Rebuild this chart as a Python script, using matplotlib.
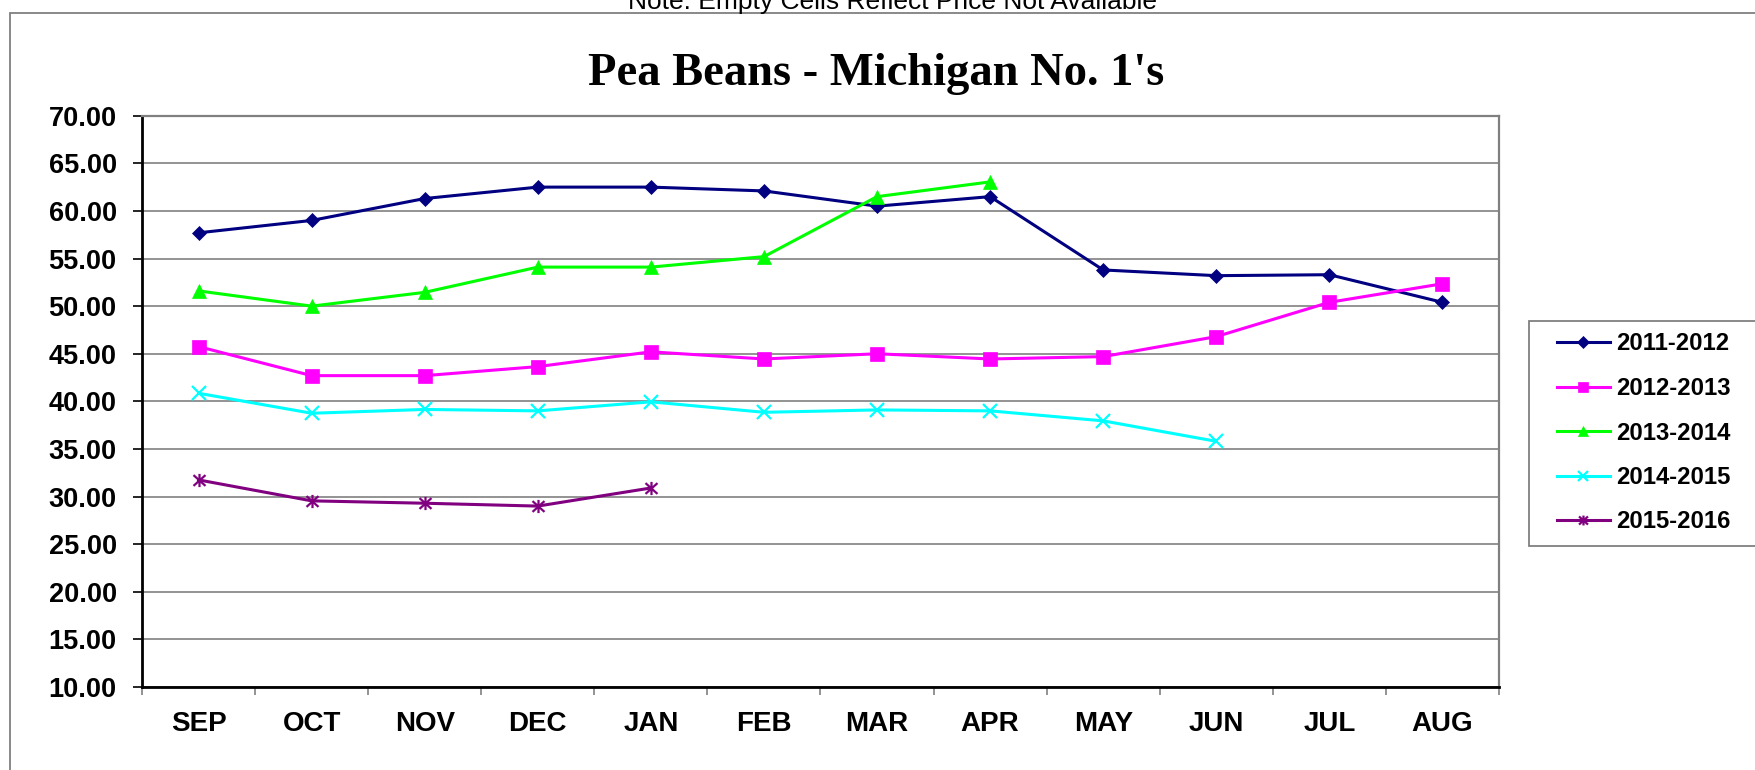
import numpy as np
import matplotlib
matplotlib.use("Agg")
import matplotlib.pyplot as plt
from matplotlib.path import Path
from matplotlib.patches import Rectangle
from matplotlib.ticker import FixedLocator, NullFormatter

months = ["SEP", "OCT", "NOV", "DEC", "JAN", "FEB", "MAR", "APR", "MAY", "JUN", "JUL", "AUG"]
nan = np.nan
s2011 = [57.7, 59.0, 61.3, 62.5, 62.5, 62.1, 60.5, 61.5, 53.8, 53.2, 53.3, 50.4]
s2012 = [45.75, 42.7, 42.7, 43.65, 45.2, 44.45, 45.0, 44.45, 44.7, 46.8, 50.4, 52.35]
s2013 = [51.6, 50.0, 51.45, 54.1, 54.1, 55.2, 61.5, 63.05, nan, nan, nan, nan]
s2014 = [40.85, 38.75, 39.15, 39.0, 39.95, 38.85, 39.1, 39.0, 37.95, 35.8, nan, nan]
s2015 = [31.75, 29.55, 29.3, 29.0, 30.9, nan, nan, nan, nan, nan, nan, nan]
labels = ["2011-2012", "2012-2013", "2013-2014", "2014-2015", "2015-2016"]
yticks = [10, 15, 20, 25, 30, 35, 40, 45, 50, 55, 60, 65, 70]

W, H = 1756, 770
fig = plt.figure(figsize=(W / 100, H / 100), dpi=100)
fig.patch.set_facecolor("white")

def fx(px):
    return px / W

def fy(py):
    return 1 - py / H

left, right, top, bottom = 142, 1499, 115.7, 687
ax = fig.add_axes([fx(left), fy(bottom), fx(right) - fx(left), fy(top) - fy(bottom)])

star = Path([(0, -1.1), (0, 1.1), (-1, -0.9), (1, 0.9), (-1, 0.9), (1, -0.9)],
            [Path.MOVETO, Path.LINETO, Path.MOVETO, Path.LINETO, Path.MOVETO, Path.LINETO])

x = np.arange(len(months))
series = [s2011, s2012, s2013, s2014, s2015]
colors = ["#000080", "#FF00FF", "#00FF00", "#00FFFF", "#800080"]
markers = ["D", "s", "^", "x", star]
msizes = [7.6, 10.5, 10.5, 9.5, 9.5]
mews = [0.5, 0.5, 0.5, 1.6, 1.6]

handles = []
for vals, c, m, ms, mew, lab in zip(series, colors, markers, msizes, mews, labels):
    h, = ax.plot(x, np.array(vals, dtype=float), color=c, marker=m, markersize=ms,
                 markeredgewidth=mew, markeredgecolor=c, markerfacecolor=c,
                 linewidth=2.2, label=lab, zorder=3)
    handles.append(h)

ax.set_xlim(-0.5, 11.5)
ax.set_ylim(10, 70)
ax.set_yticks(yticks)
ax.set_yticklabels([f"{v:.2f}" for v in yticks])
ax.set_xticks(x)
ax.set_xticklabels(months)
ax.xaxis.set_minor_locator(FixedLocator(np.arange(-0.5, 12, 1.0)))
ax.xaxis.set_minor_formatter(NullFormatter())
ax.tick_params(axis="x", which="major", length=0, pad=17, labelsize=20)
ax.tick_params(axis="x", which="minor", length=6, width=1.2, color="#808080", direction="out")
ax.tick_params(axis="y", which="major", length=6.5, width=1.2, color="black", pad=11.7, labelsize=19.5)
for t in ax.get_xticklabels() + ax.get_yticklabels():
    t.set_fontfamily("Liberation Sans")
    t.set_fontweight("bold")

ax.yaxis.grid(True, color="#808080", linewidth=1.2)
ax.set_axisbelow(True)
ax.spines["left"].set_color("black")
ax.spines["left"].set_linewidth(2.0)
ax.spines["bottom"].set_color("black")
ax.spines["bottom"].set_linewidth(2.0)
ax.spines["top"].set_color("#808080")
ax.spines["top"].set_linewidth(1.6)
ax.spines["right"].set_color("#808080")
ax.spines["right"].set_linewidth(1.6)

# Title and note
fig.text(fx(876), fy(85), "Pea Beans - Michigan No. 1's", ha="center", va="baseline",
         fontsize=33.5, fontweight="bold", family="Liberation Serif")
fig.text(fx(893), fy(8.5), "Note: Empty Cells Reflect Price Not Available", ha="center",
         va="baseline", fontsize=19, family="Liberation Sans")

# Outer chart border
fig.patches.append(Rectangle((fx(10), -0.5), 2, fy(13) + 0.5, transform=fig.transFigure,
                             fill=False, edgecolor="#808080", linewidth=1.3))
# Legend box
fig.patches.append(Rectangle((fx(1529), fy(546)), 1, fy(321) - fy(546), transform=fig.transFigure,
                             fill=True, facecolor="white", edgecolor="#808080", linewidth=1.3, zorder=1))

leg = fig.legend(handles=handles, labels=labels, loc="center left",
                 bbox_to_anchor=(fx(1557), fy(433)), bbox_transform=fig.transFigure,
                 frameon=False, borderpad=0, borderaxespad=0, handlelength=2.2,
                 handletextpad=0.26, labelspacing=0.9, markerscale=0.75,
                 prop={"family": "Liberation Sans", "weight": "bold", "size": 17.2})
leg.set_zorder(5)

fig.savefig("out.png", dpi=100, facecolor="white")
